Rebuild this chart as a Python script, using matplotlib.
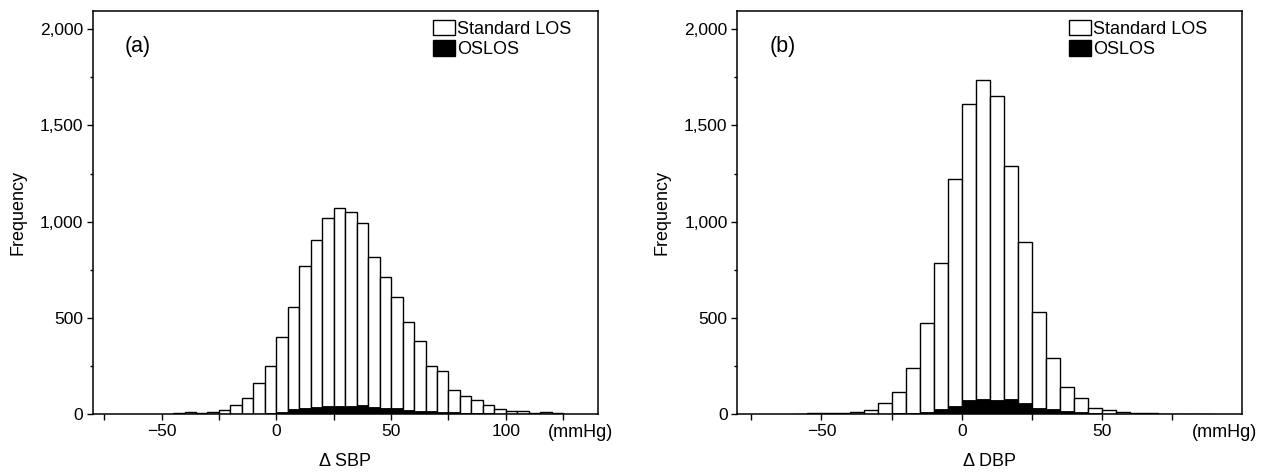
import matplotlib
matplotlib.use("Agg")
import matplotlib.pyplot as plt
import matplotlib.patches as mpatches
from matplotlib.ticker import FixedLocator, FuncFormatter
import numpy as np

plt.rcParams["font.family"] = ["Liberation Sans", "DejaVu Sans"]

BIN = 5

# Delta SBP: left edges of 5 mmHg bins and counts
sbp_edges = list(range(-45, 125, 5))
sbp_standard = [3, 10, 5, 10, 19, 48, 82, 160, 248, 400, 556, 770, 905, 1018, 1073,
                1050, 995, 815, 711, 606, 476, 381, 251, 221, 126, 96, 71, 46, 25,
                16, 14, 5, 10, 3]
sbp_oslos = [0, 0, 0, 0, 0, 0, 1, 2, 4, 8, 27, 32, 37, 40, 44,
             42, 48, 38, 33, 33, 21, 18, 13, 10, 9, 7, 5, 3, 2,
             1, 0, 0, 0, 0]

# Delta DBP
dbp_edges = list(range(-60, 90, 5))
dbp_standard = [2, 3, 5, 7, 10, 19, 58, 116, 241, 471, 786, 1222, 1613, 1737, 1653,
                1288, 895, 531, 289, 138, 82, 33, 19, 12, 4, 3, 2, 2, 2, 1]
dbp_oslos = [0, 0, 0, 0, 0, 1, 2, 4, 6, 12, 25, 40, 74, 76, 73,
             78, 58, 30, 24, 14, 8, 4, 2, 0, 0, 0, 0, 0, 0, 0]

panels = [
    dict(label="(a)", xlabel="\u0394 SBP", xlim=(-80, 140),
         major=[-50, 0, 50, 100], minor=[-75, -25, 25, 75, 125],
         edges=sbp_edges, std=sbp_standard, oslos=sbp_oslos,
         left=92.7, leg_x=0.674),
    dict(label="(b)", xlabel="\u0394 DBP", xlim=(-80, 100),
         major=[-50, 0, 50], minor=[-75, -25, 25, 75],
         edges=dbp_edges, std=dbp_standard, oslos=dbp_oslos,
         left=737.3, leg_x=0.657),
]

W, H = 1264, 474
fig = plt.figure(figsize=(W / 100, H / 100), dpi=100)

ax_w, ax_h = 505, 403
ax_top = 11

for p in panels:
    ax = fig.add_axes([p["left"] / W, (H - ax_top - ax_h) / H, ax_w / W, ax_h / H])
    ax.bar(p["edges"], p["std"], width=BIN, align="edge", facecolor="white",
           edgecolor="black", linewidth=1.0, zorder=2)
    ax.bar(p["edges"], p["oslos"], width=BIN, align="edge", facecolor="black",
           edgecolor="black", linewidth=0.6, zorder=3)

    ax.set_xlim(*p["xlim"])
    ax.set_ylim(0, 2095)
    ax.xaxis.set_major_locator(FixedLocator(p["major"]))
    ax.xaxis.set_minor_locator(FixedLocator(p["minor"]))
    ax.yaxis.set_major_locator(FixedLocator([0, 500, 1000, 1500, 2000]))
    ax.yaxis.set_minor_locator(FixedLocator([250, 750, 1250, 1750]))
    ax.yaxis.set_major_formatter(FuncFormatter(lambda v, _: f"{int(v):,}"))
    ax.xaxis.set_major_formatter(FuncFormatter(lambda v, _: f"{int(v)}".replace("-", "\u2212")))

    ax.tick_params(axis="both", which="major", direction="out", length=4.5, width=1.0,
                   labelsize=12.5, color="black")
    ax.tick_params(axis="x", which="major", pad=3)
    ax.tick_params(axis="y", which="major", pad=2.5)
    ax.tick_params(axis="x", which="minor", direction="out", length=4.5, width=1.0)
    ax.tick_params(axis="y", which="minor", direction="out", length=2.5, width=1.0)
    for s in ax.spines.values():
        s.set_linewidth(1.1)
        s.set_color("black")

    ax.set_ylabel("Frequency", fontsize=13)
    ax.yaxis.set_label_coords(-0.132, 0.5)
    ax.set_xlabel(p["xlabel"], fontsize=13)
    ax.xaxis.set_label_coords(0.5, -0.096)

    ax.text(0.965, -0.045, "(mmHg)", transform=ax.transAxes, ha="center", va="center",
            fontsize=13, clip_on=False)
    ax.text(0.064, 0.911, p["label"], transform=ax.transAxes, ha="left", va="center",
            fontsize=15.5)

    handles = [mpatches.Patch(facecolor="white", edgecolor="black", linewidth=1.0),
               mpatches.Patch(facecolor="black", edgecolor="black", linewidth=1.0)]
    ax.legend(handles, ["Standard LOS", "OSLOS"], loc="upper left",
              bbox_to_anchor=(p["leg_x"], 0.978), frameon=False, fontsize=13,
              handlelength=1.2, handleheight=0.95, handletextpad=0.15,
              labelspacing=0.12, borderpad=0, borderaxespad=0)

fig.savefig("out.png", dpi=100)
